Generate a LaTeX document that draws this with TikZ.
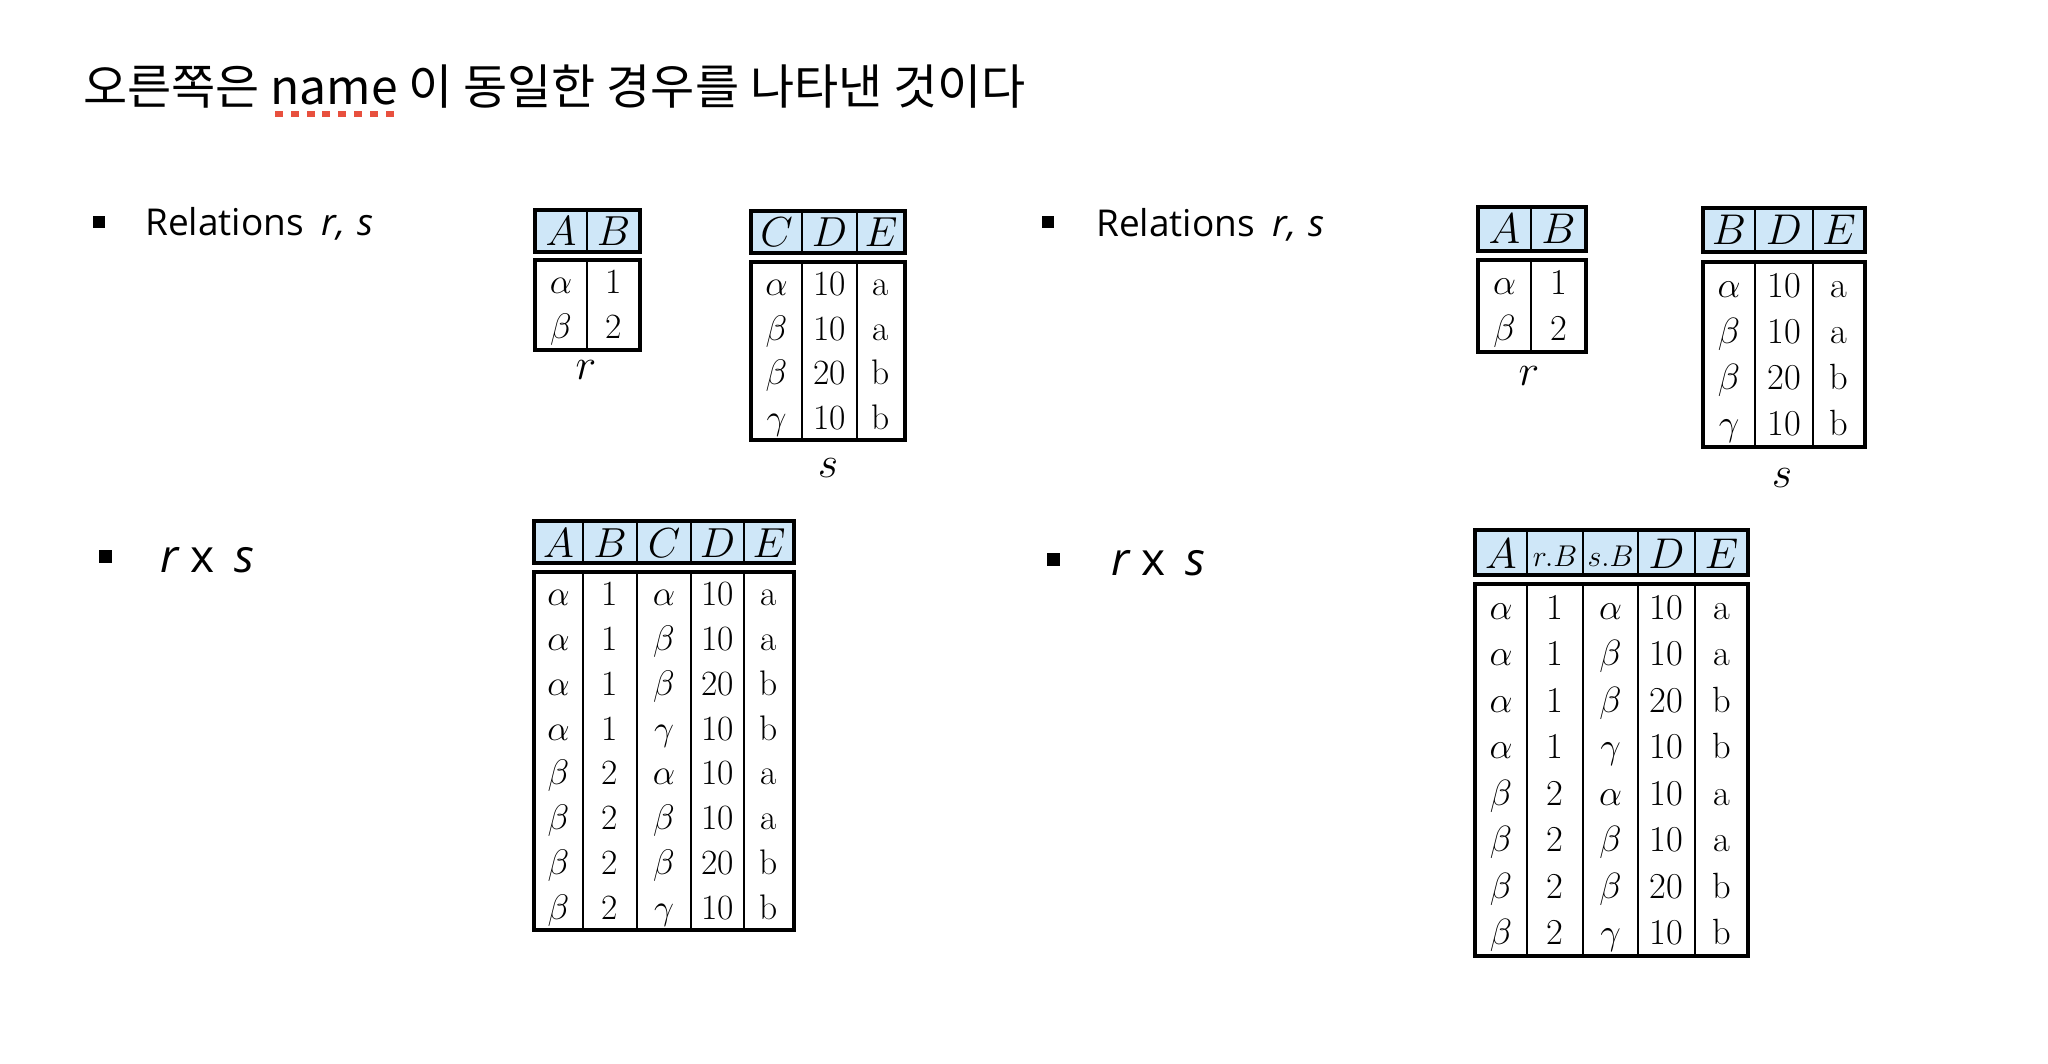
\RequirePackage{fix-cm}
\documentclass[tikz,border=0pt]{standalone}
\usepackage{fontspec}
\newfontfamily\krfont{Noto Sans CJK KR}
\newfontfamily\bulfont{Open Sans}
\definecolor{hdrblue}{RGB}{207,231,248}
\definecolor{spellred}{RGB}{232,80,62}
\newsavebox\nmbox
\newcommand\spellmark[1]{\sbox\nmbox{#1}\rlap{\textcolor{spellred}{\raisebox{-12pt}{\hbox to \wd\nmbox{\xleaders\hbox to 14.75pt{\hss\rule{8pt}{6pt}\hss}\hfill}}}}\usebox\nmbox}
\tikzset{
  tabline/.style={line width=3.6pt, line join=miter},
  divline/.style={line width=2.6pt},
  hcell/.style={inner sep=0pt, anchor=base, font=\fontsize{42}{42}\selectfont},
  hcellR/.style={inner sep=0pt, anchor=base, font=\fontsize{43}{43}\selectfont},
  hsmall/.style={inner sep=0pt, anchor=base, font=\fontsize{30}{30}\selectfont},
  cell/.style={inner sep=0pt, anchor=base, font=\fontsize{35.5}{35.5}\selectfont},
  cellR/.style={inner sep=0pt, anchor=base, font=\fontsize{36.5}{36.5}\selectfont},
  tlabel/.style={inner sep=0pt, anchor=base, font=\fontsize{44}{44}\selectfont},
  bullet/.style={fill=black, inner sep=0pt, minimum size=12pt},
  bultext/.style={inner sep=0pt, anchor=base west, font=\bulfont\fontsize{37}{37}\selectfont},
  bulbig/.style={inner sep=0pt, anchor=base west, font=\bulfont\fontsize{46}{46}\selectfont},
}
\begin{document}
\begin{tikzpicture}[x=1pt,y=-1pt]
\useasboundingbox (0,0) rectangle (2048,1064);
\fill[white] (0,0) rectangle (2048,1064);

% title
\node[anchor=base west, inner sep=0pt, font=\krfont\fontsize{48}{48}\selectfont] (title) at (83,105) {오른쪽은 \spellmark{name} 이 동일한 경우를 나타낸 것이다};

% bullets, left
\node[bullet] (lb1) at (99,222) {};
\node[bultext] (lt1) at (145,236) {Relations\hspace{18pt}\textit{r,\hspace{12pt}s}};
\node[bullet, minimum size=13pt] (lb2) at (105,556) {};
\node[bulbig] (lt2) at (160,572) {\textit{r}\hspace{11pt}x\hspace{20pt}\textit{s}};

% bullets, right
\node[bullet] (rb1) at (1047.5,222.5) {};
\node[bultext] (rt1) at (1096,237) {Relations\hspace{18pt}\textit{r,\hspace{12pt}s}};
\node[bullet, minimum size=13pt] (rb2) at (1053,559) {};
\node[bulbig] (rt2) at (1111,575) {\textit{r}\hspace{11pt}x\hspace{20pt}\textit{s}};

% ===== left r =====
\fill[hdrblue] (535,210) rectangle (640,252);
\draw[tabline] (535,210) rectangle (640,252);
\draw[tabline] (535,260) rectangle (640,350);
\draw[divline] (587,210) -- (587,252) (587,260) -- (587,350);
\node[hcell] (lr-h1) at (561,246) {$A$};
\node[hcell] (lr-h2) at (613.5,246) {$B$};
\foreach \ca/\cb [count=\i] in {\alpha/1,\beta/2}{
  \node[cell] (lr-\i-1) at (561,{260+(\i-0.5)*45+11.5}) {$\ca$};
  \node[cell] (lr-\i-2) at (613.5,{260+(\i-0.5)*45+11.5}) {\cb};
}
\node[tlabel] (lr-label) at (586,380) {$r$};

% ===== left s =====
\fill[hdrblue] (751,211) rectangle (905,253);
\draw[tabline] (751,211) rectangle (905,253);
\draw[tabline] (751,262) rectangle (905,440);
\draw[divline] (802,211) -- (802,253) (802,262) -- (802,440)
               (857,211) -- (857,253) (857,262) -- (857,440);
\node[hcell] (ls-h1) at (776.5,247) {$C$};
\node[hcell] (ls-h2) at (829.5,247) {$D$};
\node[hcell] (ls-h3) at (881,247) {$E$};
\foreach \ca/\cb/\cc [count=\i] in {\alpha/10/a,\beta/10/a,\beta/20/b,\gamma/10/b}{
  \node[cell] (ls-\i-1) at (776.5,{262+(\i-0.5)*44.5+11.5}) {$\ca$};
  \node[cell] (ls-\i-2) at (829.5,{262+(\i-0.5)*44.5+11.5}) {\cb};
  \node[cell] (ls-\i-3) at (881,{262+(\i-0.5)*44.5+11.5}) {\cc};
}
\node[tlabel] (ls-label) at (828,477) {$s$};

% ===== left r x s =====
\fill[hdrblue] (534,521) rectangle (794,563);
\draw[tabline] (534,521) rectangle (794,563);
\draw[tabline] (534,572) rectangle (794,930);
\foreach \xx in {583,637,691,744}{
  \draw[divline] (\xx,521) -- (\xx,563) (\xx,572) -- (\xx,930);
}
\node[hcell] (lp-h1) at (558.5,557) {$A$};
\node[hcell] (lp-h2) at (610,557) {$B$};
\node[hcell] (lp-h3) at (664,557) {$C$};
\node[hcell] (lp-h4) at (717.5,557) {$D$};
\node[hcell] (lp-h5) at (769,557) {$E$};
\foreach \ca/\cb/\cc/\cd/\ce [count=\i] in {\alpha/1/\alpha/10/a,\alpha/1/\beta/10/a,\alpha/1/\beta/20/b,\alpha/1/\gamma/10/b,\beta/2/\alpha/10/a,\beta/2/\beta/10/a,\beta/2/\beta/20/b,\beta/2/\gamma/10/b}{
  \node[cell] (lp-\i-1) at (558.5,{572+(\i-0.5)*44.75+11.5}) {$\ca$};
  \node[cell] (lp-\i-2) at (610,{572+(\i-0.5)*44.75+11.5}) {\cb};
  \node[cell] (lp-\i-3) at (664,{572+(\i-0.5)*44.75+11.5}) {$\cc$};
  \node[cell] (lp-\i-4) at (717.5,{572+(\i-0.5)*44.75+11.5}) {\cd};
  \node[cell] (lp-\i-5) at (769,{572+(\i-0.5)*44.75+11.5}) {\ce};
}

% ===== right r =====
\fill[hdrblue] (1478,207) rectangle (1586,251);
\draw[tabline] (1478,207) rectangle (1586,251);
\draw[tabline] (1478,260) rectangle (1586,352);
\draw[divline] (1531,207) -- (1531,251) (1531,260) -- (1531,352);
\node[hcellR] (rr-h1) at (1504.5,244) {$A$};
\node[hcellR] (rr-h2) at (1558.5,244) {$B$};
\foreach \ca/\cb [count=\i] in {\alpha/1,\beta/2}{
  \node[cellR] (rr-\i-1) at (1504.5,{260+(\i-0.5)*46+12}) {$\ca$};
  \node[cellR] (rr-\i-2) at (1558.5,{260+(\i-0.5)*46+12}) {\cb};
}
\node[tlabel] (rr-label) at (1529,385) {$r$};

% ===== right s =====
\fill[hdrblue] (1703,208) rectangle (1865,252);
\draw[tabline] (1703,208) rectangle (1865,252);
\draw[tabline] (1703,262) rectangle (1865,447);
\draw[divline] (1755,208) -- (1755,252) (1755,262) -- (1755,447)
               (1813,208) -- (1813,252) (1813,262) -- (1813,447);
\node[hcellR] (rs-h1) at (1729,245) {$B$};
\node[hcellR] (rs-h2) at (1784,245) {$D$};
\node[hcellR] (rs-h3) at (1839,245) {$E$};
\foreach \ca/\cb/\cc [count=\i] in {\alpha/10/a,\beta/10/a,\beta/20/b,\gamma/10/b}{
  \node[cellR] (rs-\i-1) at (1729,{262+(\i-0.5)*46.25+12}) {$\ca$};
  \node[cellR] (rs-\i-2) at (1784,{262+(\i-0.5)*46.25+12}) {\cb};
  \node[cellR] (rs-\i-3) at (1839,{262+(\i-0.5)*46.25+12}) {\cc};
}
\node[tlabel] (rs-label) at (1782,487) {$s$};

% ===== right r x s =====
\fill[hdrblue] (1475,530) rectangle (1748,575);
\draw[tabline] (1475,530) rectangle (1748,575);
\draw[tabline] (1475,584) rectangle (1748,956);
\foreach \xx in {1527,1583,1638,1695}{
  \draw[divline] (\xx,530) -- (\xx,575) (\xx,584) -- (\xx,956);
}
\node[hcellR] (rp-h1) at (1501,568) {$A$};
\node[hsmall] (rp-h2) at (1555,566) {$r.B$};
\node[hsmall] (rp-h3) at (1610.5,566) {$s.B$};
\node[hcellR] (rp-h4) at (1666.5,568) {$D$};
\node[hcellR] (rp-h5) at (1721.5,568) {$E$};
\foreach \ca/\cb/\cc/\cd/\ce [count=\i] in {\alpha/1/\alpha/10/a,\alpha/1/\beta/10/a,\alpha/1/\beta/20/b,\alpha/1/\gamma/10/b,\beta/2/\alpha/10/a,\beta/2/\beta/10/a,\beta/2/\beta/20/b,\beta/2/\gamma/10/b}{
  \node[cellR] (rp-\i-1) at (1501,{584+(\i-0.5)*46.5+12}) {$\ca$};
  \node[cellR] (rp-\i-2) at (1555,{584+(\i-0.5)*46.5+12}) {\cb};
  \node[cellR] (rp-\i-3) at (1610.5,{584+(\i-0.5)*46.5+12}) {$\cc$};
  \node[cellR] (rp-\i-4) at (1666.5,{584+(\i-0.5)*46.5+12}) {\cd};
  \node[cellR] (rp-\i-5) at (1721.5,{584+(\i-0.5)*46.5+12}) {\ce};
}
\end{tikzpicture}
\end{document}
